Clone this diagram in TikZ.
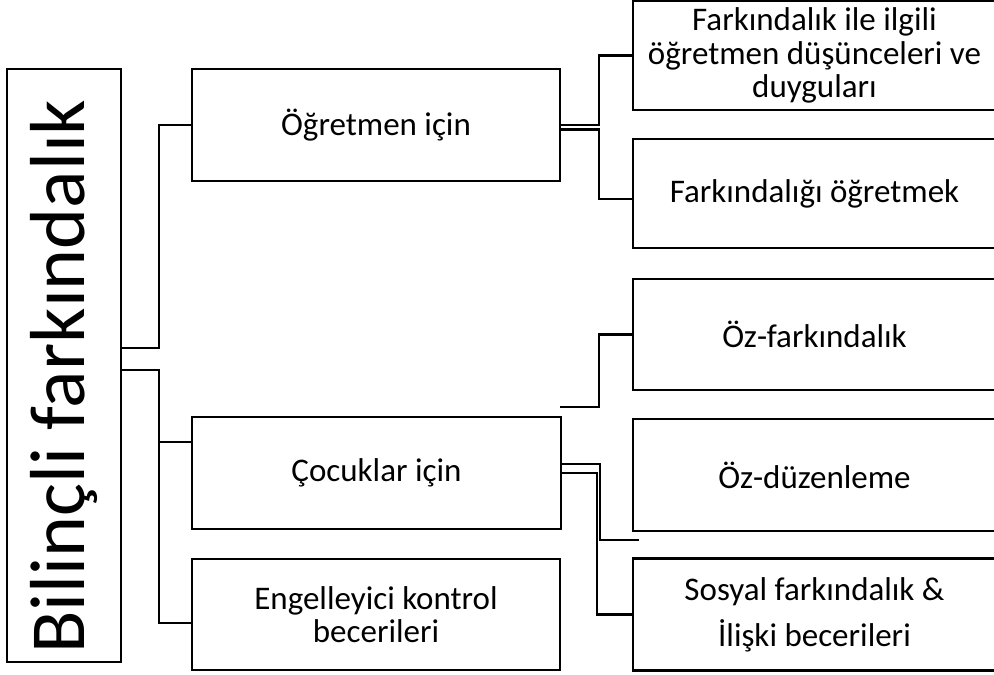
\documentclass[tikz,border=0pt]{standalone}
\usepackage{fontspec}
\setmainfont{Carlito}
\usepackage{xcolor}
\usepackage{tikz}
\usetikzlibrary{calc,positioning}
\definecolor{ink}{HTML}{000000}
\tikzset{
  box/.style={draw=ink, line width=2.5pt, align=center, inner sep=0pt,
    font=\fontsize{33}{33.5}\selectfont, text=ink},
  conn/.style={draw=ink, line width=2.5pt, line cap=rect, line join=miter},
}

\begin{document}
\begin{tikzpicture}[x=1pt,y=-1pt]
  \useasboundingbox (0,0) rectangle (994,675);
  % left column
  \node[box,minimum width=114pt,minimum height=593pt] (M) at (64,365.5)
    {\rotatebox{90}{\fontsize{78}{94}\selectfont Bilinçli farkındalık\hspace{22pt}}};
  % middle column
  \node[box,minimum width=368pt,minimum height=112pt] (T) at (376,125) {Öğretmen için};
  \node[box,minimum width=369pt,minimum height=112pt] (C) at (376.5,473) {Çocuklar için};
  \node[box,minimum width=368pt,minimum height=111pt] (E) at (376,614.5)
    {Engelleyici kontrol\\becerileri};
  % right column
  \node[box,minimum width=363pt,minimum height=109pt] (R1) at (814.5,55.5)
    {Farkındalık ile ilgili\\öğretmen düşünceleri ve\\duyguları};
  \node[box,minimum width=363pt,minimum height=109pt] (R2) at (814.5,193.5)
    {Farkındalığı öğretmek};
  \node[box,minimum width=363pt,minimum height=111pt] (R3) at (814.5,334.5)
    {Öz-farkındalık};
  \node[box,minimum width=363pt,minimum height=112pt] (R4) at (814.5,475)
    {Öz-düzenleme};
  \node[box,minimum width=363pt,minimum height=112pt,
    font=\fontsize{33}{46}\selectfont] (R5) at (814.5,614.5)
    {Sosyal farkındalık \&\\İlişki becerileri};
  \coordinate (cfree) at (561,407);
  \coordinate (dfree) at (638,540);

  % connectors
  \draw[conn] (M.east |- 0,348) -- (159,348) |- (T.west);
  \draw[conn] (M.east |- 0,370) -- (159,370) |- (C.west |- 0,442);
  \draw[conn] (M.east |- 0,370) -- (159,370) |- (E.west |- 0,623);
  \draw[conn] (T.east |- 0,125) -- (599,125) |- (R1.west);
  \draw[conn] (T.east |- 0,129.5) -- (599,129.5) |- (R2.west |- 0,199);
  \draw[conn] (cfree) -- (599,407) |- (R3.west);
  \draw[conn] (C.east |- 0,464) -- (600,464) |- (dfree);
  \draw[conn] (C.east |- 0,473) -- (597,473) |- (R5.west);
\end{tikzpicture}
\end{document}
